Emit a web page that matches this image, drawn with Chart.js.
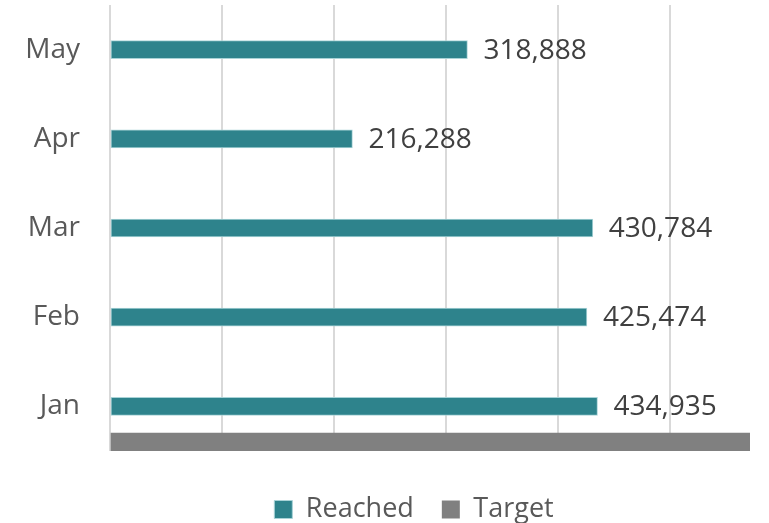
<!DOCTYPE html>
<html>
<head>
<meta charset="utf-8">
<script src="https://cdn.jsdelivr.net/npm/chart.js@4.4.1/dist/chart.umd.min.js"></script>
<style>
  html, body { margin: 0; padding: 0; background: #fff; }
  #wrap { width: 769px; height: 523px; }
</style>
</head>
<body>
<div id="wrap"><canvas id="chart"></canvas></div>
<script>
// data
const months = ['May', 'Apr', 'Mar', 'Feb', 'Jan'];
const reached = [318888, 216288, 430784, 425474, 434935];
const target = [null, null, null, null, 571000];
const xTicks = [0, 100000, 200000, 300000, 400000, 500000];

const FONT = "'Open Sans', 'DejaVu Sans', sans-serif";

// draws the value to the right of each Reached bar
const valueLabels = {
    id: 'valueLabels',
    afterDatasetsDraw(chart) {
        const ctx = chart.ctx;
        const meta = chart.getDatasetMeta(0);
        ctx.save();
        ctx.font = '28px ' + FONT;
        ctx.fillStyle = '#404040';
        ctx.textAlign = 'left';
        ctx.textBaseline = 'middle';
        meta.data.forEach((bar, i) => {
            ctx.fillText(reached[i].toLocaleString('en-US'), bar.x + 16, bar.y + 1);
        });
        ctx.restore();
    }
};

// nudge the legend so it sits under the plot like in the original
const legendShift = {
    id: 'legendShift',
    afterLayout(chart) {
        const l = chart.legend;
        l.left += 39; l.right += 39;
        l.top += 17; l.bottom += 17;
    }
};

new Chart(document.getElementById('chart'), {
    type: 'bar',
    data: {
        labels: months,
        datasets: [{
            label: 'Reached',
            data: reached,
            yAxisID: 'y',
            grouped: false,
            backgroundColor: '#2e838c',
            borderColor: '#a9d3d7',
            borderWidth: 1,
            borderSkipped: false,
            barThickness: 18,
        }, {
            // target bar sits on the bottom edge of the plot, half of it is clipped
            label: 'Target',
            data: target,
            yAxisID: 'yT',
            grouped: false,
            backgroundColor: '#808080',
            borderWidth: 0,
            barThickness: 36,
            clip: 0,
        }],
    },
    options: {
        indexAxis: 'y',
        responsive: true,
        maintainAspectRatio: false,
        animation: false,
        layout: {
            padding: { left: 0, right: 19, top: 5, bottom: 7 },
        },
        scales: {
            x: {
                min: 0,
                max: target[4],
                afterBuildTicks: (scale) => {
                    scale.ticks = xTicks.map(v => ({ value: v }));
                },
                ticks: { display: false },
                grid: { color: '#d9d9d9', lineWidth: 2, drawTicks: false },
                border: { display: false },
            },
            y: {
                afterFit: (scale) => {
                    scale.width = 110;
                    scale.paddingTop = 0;
                    scale.paddingBottom = 0;
                },
                ticks: {
                    color: '#595959',
                    font: { family: FONT, size: 28 },
                    padding: 0,
                },
                grid: {
                    drawOnChartArea: false,
                    drawTicks: true,
                    tickLength: 30,
                    tickColor: 'rgba(0,0,0,0)',
                },
                border: { display: false },
            },
            yT: {
                type: 'category',
                labels: months,
                offset: false,
                display: false,
            },
        },
        plugins: {
            legend: {
                position: 'bottom',
                labels: {
                    color: '#595959',
                    font: { family: FONT, size: 27 },
                    boxWidth: 18,
                    boxHeight: 18,
                    padding: 28,
                },
            },
            tooltip: { enabled: false },
        },
    },
    plugins: [valueLabels, legendShift],
});
</script>
</body>
</html>
